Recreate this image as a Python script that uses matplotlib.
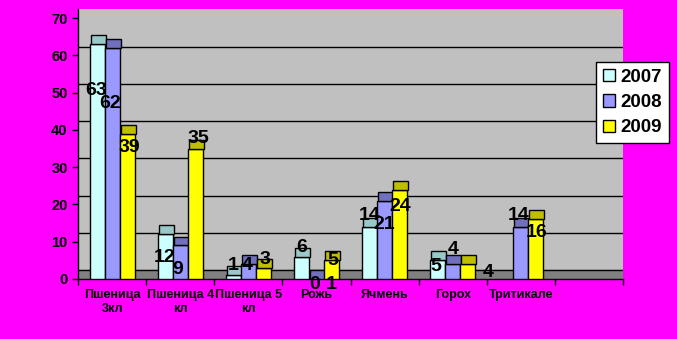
import matplotlib.pyplot as plt
import numpy as np

plt.rcParams['font.family'] = ['Liberation Sans', 'DejaVu Sans']

# данные
categories = ['Пшеница\n3кл', 'Пшеница 4\nкл', 'Пшеница 5\nкл', 'Рожь', 'Ячмень', 'Горох', 'Тритикале', '']
years = ['2007', '2008', '2009']
v2007 = [63, 12, 1, 6, 14, 5, 0]
v2008 = [62, 9, 4, 0.1, 21, 4, 14]
v2009 = [39, 35, 3, 5, 24, 4, 16]
lab2007 = ['63', '12', '1', '6', '14', '5', '']
lab2008 = ['62', '9', '4', '0 1', '21', '4', '14']
lab2009 = ['39', '35', '3', '5', '24', '4', '16']

# сдвиги подписей (пиксели: dx вправо, dy вниз)
off2007 = [(-1, 46), (-1, 23), (0, -10), (0, -9), (0, -11), (-2, 6), (0, 0)]
off2008 = [(-2, 55), (-2, 24), (-1, 1), (7, 6), (0, 24), (1, -14.5), (-2, -11)]
off2009 = [(2, 13.5), (3, -10.5), (2, -8), (1.5, 0), (1, 16.5), (21, 8.5), (1, 13)]

front = ['#CCFFFF', '#9999FF', '#FFFF00']
top = ['#99C8C8', '#7070BF', '#BFBF00']
depth = 2.4
w = 0.22

fig = plt.figure(figsize=(6.77, 3.39), dpi=100)
fig.patch.set_facecolor('#FF00FF')
ax = fig.add_axes([78 / 677, 60 / 339, 545 / 677, (279 - 9.3) / 339])
ax.set_xlim(0, 8)
ax.set_ylim(0, 70 + depth)
ax.set_facecolor('#C0C0C0')

# пол и сетка на задней стенке
ax.axhspan(0, depth, color='#808080', zorder=1)
ax.axhline(depth, color='black', lw=1, zorder=1.5)
for g in range(10, 70, 10):
    ax.axhline(g + depth, color='black', lw=1, zorder=1.5)

x = np.arange(len(v2007)) + 0.5
series = [np.array(v2007, float), np.array(v2008, float), np.array(v2009, float)]
labels = [lab2007, lab2008, lab2009]
offsets = [off2007, off2008, off2009]
for k in range(3):
    xs = x + (k - 1) * w
    vals = series[k]
    m = vals > 0
    ax.bar(xs[m], vals[m], width=w, color=front[k], edgecolor='black', lw=1, zorder=3)
    ax.bar(xs[m] + 0.015, depth, bottom=vals[m], width=w, color=top[k],
           edgecolor='black', lw=1, zorder=3)
for k in range(3):
    xs = x + (k - 1) * w
    for i in range(len(xs)):
        if labels[k][i]:
            dx, dy = offsets[k][i]
            ax.annotate(labels[k][i], (xs[i], series[k][i]), xytext=(dx, -dy),
                        textcoords='offset pixels', ha='center', va='center',
                        fontsize=14, fontweight='bold', color='black', zorder=5)

for s in ['top', 'right']:
    ax.spines[s].set_visible(False)
ax.spines['left'].set_linewidth(1)
ax.spines['bottom'].set_linewidth(1)

ax.set_yticks(range(0, 80, 10))
ax.tick_params(axis='y', length=4, width=1, pad=3.5, labelsize=10.5)
for t in ax.get_yticklabels():
    t.set_fontweight('bold')

ax.set_xticks(np.arange(len(categories)) + 0.5)
ax.set_xticklabels(categories, fontsize=9, fontweight='bold', linespacing=1.2)
ax.set_xticks(range(0, 9), minor=True)
ax.tick_params(axis='x', which='major', length=0, pad=7)
ax.tick_params(axis='x', which='minor', length=4, width=1)

handles = [plt.Rectangle((0, 0), 1, 1, facecolor=front[k], edgecolor='black') for k in range(3)]
leg = fig.legend(handles, years, loc='upper left', bbox_to_anchor=(596 / 677, 1 - 62 / 339),
                 frameon=True, fancybox=False, framealpha=1, edgecolor='black',
                 prop={'size': 13.5, 'weight': 'bold'}, handlelength=0.65, handleheight=0.65,
                 handletextpad=0.3, borderpad=0.35, labelspacing=0.45, borderaxespad=0)
leg.get_frame().set_linewidth(1)

plt.savefig('out.png', dpi=100, facecolor=fig.get_facecolor())
